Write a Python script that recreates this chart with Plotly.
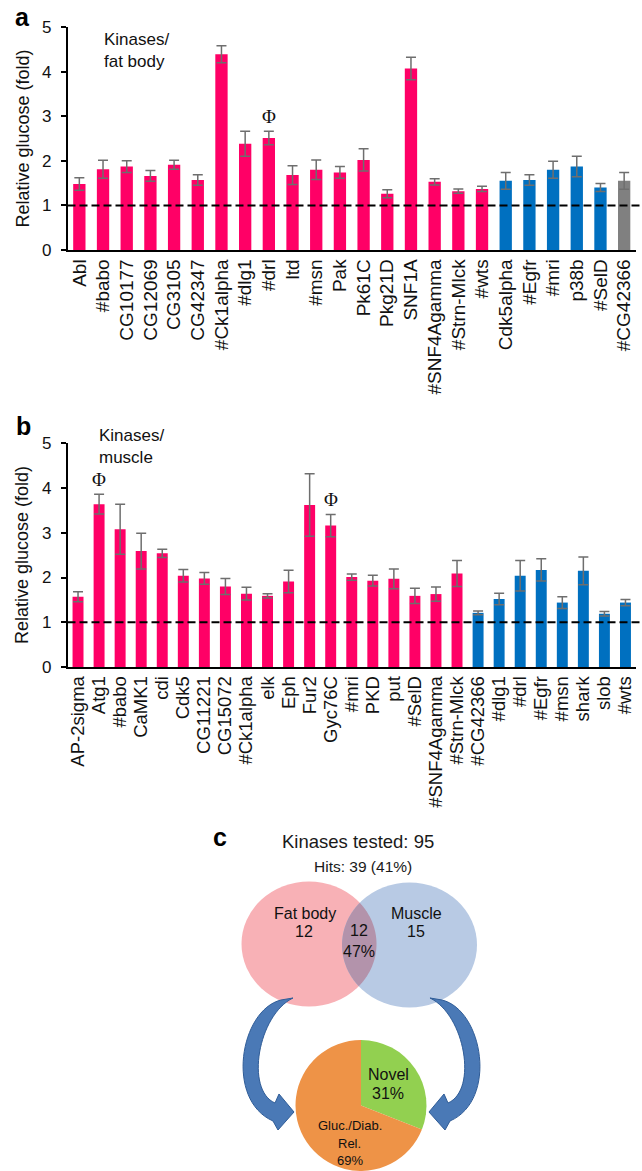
import numpy as np
import plotly.graph_objects as go

# ---------------- data ----------------
cats_a = ["Abl", "#babo", "CG10177", "CG12069", "CG3105", "CG42347", "#Ck1alpha", "#dlg1",
          "#drl", "ltd", "#msn", "Pak", "Pk61C", "Pkg21D", "SNF1A", "#SNF4Agamma",
          "#Strn-Mlck", "#wts", "Cdk5alpha", "#Egfr", "#mri", "p38b", "#SelD", "#CG42366"]
vals_a = [1.48, 1.81, 1.87, 1.66, 1.91, 1.57, 4.39, 2.38, 2.51, 1.68, 1.80, 1.74, 2.02, 1.26,
          4.07, 1.53, 1.32, 1.37, 1.55, 1.57, 1.80, 1.87, 1.40, 1.55]
errs_a = [0.14, 0.20, 0.13, 0.12, 0.10, 0.12, 0.19, 0.28, 0.15, 0.21, 0.22, 0.13, 0.25, 0.09,
          0.25, 0.07, 0.05, 0.06, 0.19, 0.12, 0.19, 0.23, 0.09, 0.19]
group_a = ["hit"] * 18 + ["other"] * 5 + ["ctrl"]
phi_a = ["#drl"]

cats_b = ["AP-2sigma", "Atg1", "#babo", "CaMK1", "cdi", "Cdk5", "CG11221", "CG15072",
          "#Ck1alpha", "elk", "Eph", "Fur2", "Gyc76C", "#mri", "PKD", "put", "#SelD",
          "#SNF4Agamma", "#Strn-Mlck", "#CG42366", "#dlg1", "#drl", "#Egfr", "#msn",
          "shark", "slob", "#wts"]
vals_b = [1.57, 3.64, 3.08, 2.59, 2.54, 2.04, 1.98, 1.80, 1.64, 1.59, 1.91, 3.62, 3.16, 2.01,
          1.93, 1.97, 1.59, 1.63, 2.09, 1.21, 1.52, 2.04, 2.17, 1.44, 2.15, 1.19, 1.44]
errs_b = [0.11, 0.22, 0.56, 0.40, 0.09, 0.14, 0.13, 0.18, 0.14, 0.05, 0.25, 0.70, 0.25, 0.07,
          0.12, 0.22, 0.17, 0.16, 0.29, 0.04, 0.13, 0.34, 0.25, 0.13, 0.31, 0.05, 0.07]
group_b = ["hit"] * 19 + ["other"] * 8
phi_b = ["Atg1", "Gyc76C"]

kinases_tested = 95
hits = 39
hits_pct = 41
venn_fat_only = 12
venn_both = 12
venn_muscle_only = 15
venn_both_pct = 47
pie_labels = ["Novel", "Gluc./Diab.<br>Rel."]
pie_values = [31, 69]

# ---------------- styling ----------------
W, H = 642, 1171
FONT = "Liberation Sans, Arial, Helvetica, sans-serif"
group_colors = {"hit": "#FF0066", "other": "#0070C0", "ctrl": "#808080"}


def px(x):
    return x / W


def py(y):
    return 1 - y / H


fig = go.Figure()

err_style = dict(type="data", color="#6E6E6E", thickness=1.5, width=5)
fig.add_trace(go.Bar(x=cats_a, y=vals_a, marker_color=[group_colors[g] for g in group_a],
                     marker_line_width=0, error_y=dict(array=errs_a, **err_style),
                     xaxis="x", yaxis="y", showlegend=False))
fig.add_trace(go.Bar(x=cats_b, y=vals_b, marker_color=[group_colors[g] for g in group_b],
                     marker_line_width=0, error_y=dict(array=errs_b, **err_style),
                     xaxis="x2", yaxis="y2", showlegend=False))

fig.add_trace(go.Pie(values=pie_values, labels=pie_labels, sort=False, direction="clockwise",
                     rotation=0, textinfo="none", hoverinfo="none",
                     marker=dict(colors=["#92D050", "#EE9347"], line=dict(width=0)),
                     domain=dict(x=[px(361 - 67), px(361 + 67)], y=[0, py(1040)]),
                     showlegend=False))

xdom = [px(67.5), px(636)]
ya_dom = [py(250), py(27)]
yb_dom = [py(667), py(443.3)]

common_x = dict(type="category", showline=True, linecolor="black", linewidth=1.5,
                ticks="", tickangle=-90, showgrid=False, zeroline=False, automargin=False,
                tickmode="array")
common_y = dict(range=[0, 5], tickvals=[0, 1, 2, 3, 4, 5], ticks="outside", ticklen=5,
                tickwidth=1.5, tickcolor="black", showline=True, linecolor="black",
                linewidth=1.5, showgrid=False, zeroline=False, automargin=False,
                tickfont=dict(size=17, color="#111111", family=FONT), ticklabelstandoff=6)

fig.update_layout(
    width=W, height=H, template="none",
    margin=dict(l=0, r=0, t=0, b=0),
    paper_bgcolor="white", plot_bgcolor="white",
    font=dict(family=FONT, color="#111111"),
    bargap=0.48, showlegend=False,
    xaxis=dict(domain=xdom, anchor="y", range=[-0.5, len(cats_a) - 0.5],
               tickvals=cats_a, ticktext=cats_a,
               tickfont=dict(size=19, color="#111111", family=FONT), **common_x),
    yaxis=dict(domain=ya_dom, anchor="x", **common_y),
    xaxis2=dict(domain=xdom, anchor="y2", range=[-0.5, len(cats_b) - 0.5],
                tickvals=cats_b, ticktext=cats_b,
                tickfont=dict(size=18.5, color="#111111", family=FONT), **common_x),
    yaxis2=dict(domain=yb_dom, anchor="x2", **common_y),
)

# dashed reference lines at 1
for yref in ["y", "y2"]:
    fig.add_shape(type="line", xref="paper", yref=yref, x0=px(67.5), x1=px(641), y0=1, y1=1,
                  line=dict(color="black", width=2, dash="8px,4px"))

ann = []


def text(x, y, s, size, **kw):
    d = dict(x=px(x), y=py(y), xref="paper", yref="paper", text=s, showarrow=False,
             font=dict(size=size, family=FONT, color=kw.pop("color", "#111111")),
             xanchor=kw.pop("xanchor", "center"), yanchor=kw.pop("yanchor", "middle"))
    d.update(kw)
    ann.append(d)


# panel letters
text(22.5, 17, "<b>a</b>", 25, color="black")
text(23.5, 426, "<b>b</b>", 25, color="black")
text(220, 837, "<b>c</b>", 25, color="black")

# y titles
text(22, 138.5, "Relative glucose (fold)", 18, textangle=-90)
text(22, 555, "Relative glucose (fold)", 18, textangle=-90)

# panel notes
text(102, 51, "Kinases/<br>fat body", 17, xanchor="left", align="left")
text(96.6, 446, "Kinases/<br>muscle", 17, xanchor="left", align="left")

# phi marks
for cats, vals, errs, marks, xr, yr in [(cats_a, vals_a, errs_a, phi_a, "x", "y"),
                                        (cats_b, vals_b, errs_b, phi_b, "x2", "y2")]:
    for m in marks:
        i = cats.index(m)
        ann.append(dict(x=m, y=vals[i] + errs[i], xref=xr, yref=yr, text="Φ",
                        showarrow=False, yshift=15, yanchor="middle",
                        font=dict(size=19, family="Liberation Serif, Times New Roman, serif",
                                  color="#111111")))

# ---------------- panel c: Venn ----------------
c1 = (309.0, 944.0)
c2 = (409.5, 945.0)
rx, ry = 67.5, 62.5
fig.add_shape(type="circle", xref="paper", yref="paper", x0=px(c1[0] - rx), x1=px(c1[0] + rx),
              y0=py(c1[1] + ry), y1=py(c1[1] - ry), fillcolor="#F8B1B6", line=dict(width=0),
              layer="below")
fig.add_shape(type="circle", xref="paper", yref="paper", x0=px(c2[0] - rx), x1=px(c2[0] + rx),
              y0=py(c2[1] + ry), y1=py(c2[1] - ry), fillcolor="#B8CAE4", line=dict(width=0),
              layer="below")

# lens (overlap)
th = np.linspace(-np.pi, np.pi, 1441)
x1p, y1p = c1[0] + rx * np.cos(th), c1[1] + ry * np.sin(th)
m1 = ((x1p - c2[0]) / rx) ** 2 + ((y1p - c2[1]) / ry) ** 2 <= 1
th2 = np.linspace(0, 2 * np.pi, 1441)
x2p, y2p = c2[0] + rx * np.cos(th2), c2[1] + ry * np.sin(th2)
m2 = ((x2p - c1[0]) / rx) ** 2 + ((y2p - c1[1]) / ry) ** 2 <= 1
lx = np.concatenate([x1p[m1], x2p[m2]])
ly = np.concatenate([y1p[m1], y2p[m2]])
path = "M " + " L ".join(f"{px(a):.5f},{py(b):.5f}" for a, b in zip(lx, ly)) + " Z"
fig.add_shape(type="path", xref="paper", yref="paper", path=path, fillcolor="#B393AB",
              line=dict(width=0), layer="below")

text(358.3, 841.7, f"Kinases tested: {kinases_tested}", 18.5, color="#1a1a1a")
text(363.3, 866.7, f"Hits: {hits} ({hits_pct}%)", 15.5, color="#1a1a1a")
text(305, 913.3, "Fat body", 16)
text(304.3, 931.7, f"{venn_fat_only}", 16)
text(416, 913.3, "Muscle", 16)
text(416, 931.7, f"{venn_muscle_only}", 16)
text(359.3, 930.7, f"{venn_both}", 16)
text(359.3, 951, f"{venn_both_pct}%", 16)

# pie labels
text(388.3, 1074, pie_labels[0], 16)
text(388.3, 1093.3, f"{pie_values[0]}%", 16)
g1, g2 = pie_labels[1].split("<br>")
text(350, 1125, g1, 13)
text(350, 1143.3, g2, 13)
text(350, 1160, f"{pie_values[1]}%", 13)


# ---------------- curved arrows ----------------
def arrow_path(mirror=None):
    pts = [("M", [(281, 1000)]),
           ("C", [(240, 1010), (225, 1100), (273, 1121)]),
           ("L", [(278, 1130)]),
           ("L", [(294, 1112)]),
           ("L", [(279, 1094)]),
           ("L", [(275, 1103)]),
           ("C", [(245, 1090), (258, 1015), (293, 998)])]
    s = []
    for cmd, plist in pts:
        coords = []
        for (x, y) in plist:
            if mirror is not None:
                x = 2 * mirror - x
            coords.append(f"{px(x):.5f},{py(y):.5f}")
        s.append(cmd + " " + " ".join(coords))
    return " ".join(s) + " Z"


for mir in [None, 361.5]:
    fig.add_shape(type="path", xref="paper", yref="paper", path=arrow_path(mir),
                  fillcolor="#4A79B6", line=dict(color="#2F5C97", width=1), layer="above")

fig.update_layout(annotations=ann)
fig.write_html("out.html", config={"displayModeBar": False},
               post_script="document.body.style.margin='0';document.body.style.overflow='hidden';")
